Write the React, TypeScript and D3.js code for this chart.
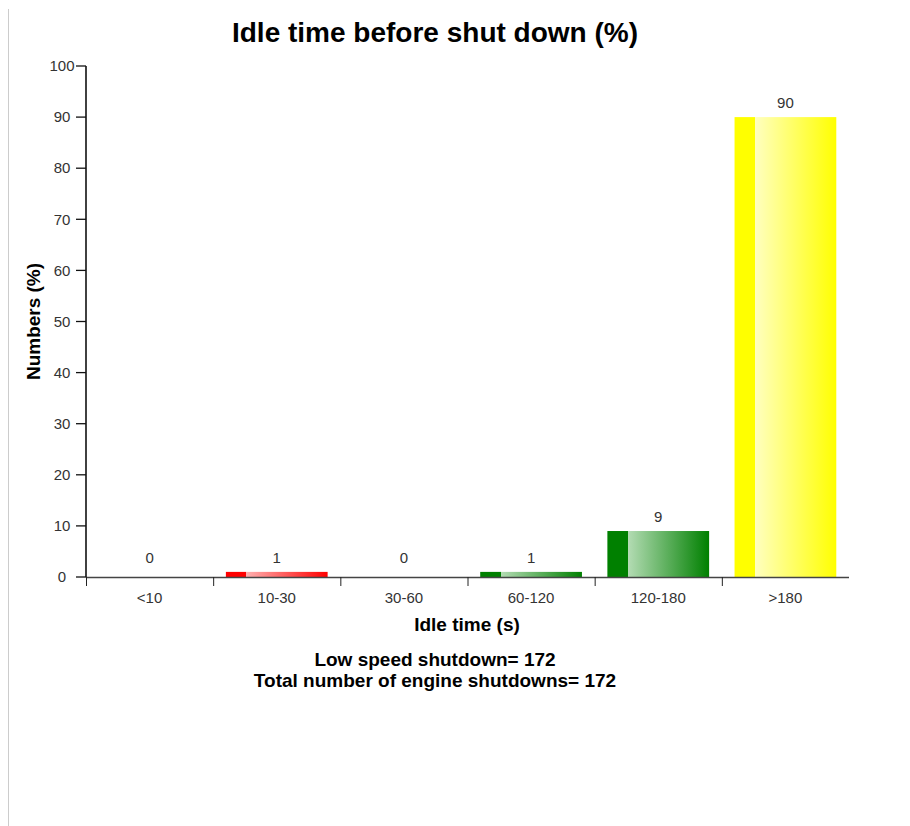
import React from "react";
import * as d3 from "d3";

const categories = ["<10", "10-30", "30-60", "60-120", "120-180", ">180"];
const values = [0, 1, 0, 1, 9, 90];
const barColors = ["#ff0000", "#ff0000", "#008000", "#008000", "#008000", "#ffff00"];
const lightColors = ["#ffb0b0", "#ffb0b0", "#b4dcb4", "#b4dcb4", "#b4dcb4", "#ffffc0"];
const yTicks = [0, 10, 20, 30, 40, 50, 60, 70, 80, 90, 100];
const titleText = "Idle time before shut down (%)";
const xLabel = "Idle time (s)";
const yLabel = "Numbers (%)";
const footerLines = ["Low speed shutdown= 172", "Total number of engine shutdowns= 172"];

const W = 902;
const H = 818;
const FONT = "Arial, 'Liberation Sans', Helvetica, sans-serif";

export default function App() {
  const x = d3.scaleBand<string>().domain(categories).range([86, 849]).paddingInner(0).paddingOuter(0);
  const y = d3.scaleLinear().domain([0, 100]).range([577, 66]);
  const bw = x.bandwidth();
  const barW = bw * 0.8;

  return (
    <svg width={W} height={H} style={{ display: "block" }} fontFamily={FONT}>
      <defs>
        {categories.map((c, i) => (
          <linearGradient key={c} id={`grad${i}`} x1="0" x2="1" y1="0" y2="0">
            <stop offset="0" stopColor={barColors[i]} />
            <stop offset="0.2" stopColor={barColors[i]} />
            <stop offset="0.2" stopColor={lightColors[i]} />
            <stop offset="1" stopColor={barColors[i]} />
          </linearGradient>
        ))}
      </defs>
      <line x1={0.5} x2={0.5} y1={1} y2={H} stroke="#cccccc" strokeWidth={1} />
      <g transform="translate(-8,-8)">
        <text x={435} y={42} textAnchor="middle" fontSize={28} fontWeight="bold" fill="#000">
          {titleText}
        </text>

        {/* bars */}
        {categories.map((c, i) => {
          const bx = (x(c) as number) + (bw - barW) / 2;
          const top = y(values[i]);
          return (
            <g key={c}>
              {values[i] > 0 && (
                <rect x={bx} y={top} width={barW} height={y(0) - top} fill={`url(#grad${i})`} />
              )}
              <text
                x={(x(c) as number) + bw / 2}
                y={y(Math.max(values[i], 1)) - 9}
                textAnchor="middle"
                fontSize={15}
                fill="#333"
              >
                {values[i]}
              </text>
            </g>
          );
        })}

        {/* x axis */}
        <line x1={86} x2={849} y1={y(0) + 0.5} y2={y(0) + 0.5} stroke="#444" strokeWidth={1.6} />
        {categories.map((c) => (
          <g key={c}>
            <line
              x1={(x(c) as number) + 0.5}
              x2={(x(c) as number) + 0.5}
              y1={y(0)}
              y2={y(0) + 9}
              stroke="#222"
              strokeWidth={1}
            />
            <text x={(x(c) as number) + bw / 2} y={603} textAnchor="middle" fontSize={15} fill="#333">
              {c}
            </text>
          </g>
        ))}

        {/* y axis */}
        <line x1={86} x2={86} y1={y(100)} y2={y(0)} stroke="#111" strokeWidth={1.6} />
        {yTicks.map((t) => (
          <g key={t}>
            <line x1={76} x2={86} y1={y(t)} y2={y(t)} stroke="#111" strokeWidth={1.3} />
            <text x={62} y={y(t)} dy="0.35em" textAnchor="middle" fontSize={15} fill="#333">
              {t}
            </text>
          </g>
        ))}

        <text x={467} y={631} textAnchor="middle" fontSize={19} fontWeight="bold" fill="#000">
          {xLabel}
        </text>
        <text
          transform={`translate(40,${(y(0) + y(100)) / 2}) rotate(-90)`}
          textAnchor="middle"
          fontSize={19}
          fontWeight="bold"
          fill="#000"
        >
          {yLabel}
        </text>
        {footerLines.map((l, i) => (
          <text key={i} x={435} y={666 + i * 20.5} textAnchor="middle" fontSize={19} fontWeight="bold" fill="#000">
            {l}
          </text>
        ))}
      </g>
    </svg>
  );
}
